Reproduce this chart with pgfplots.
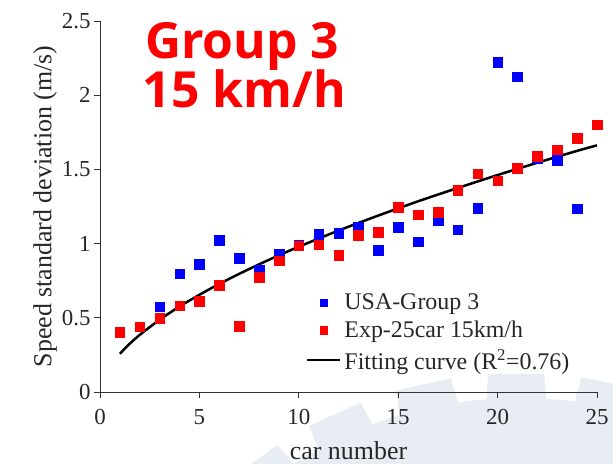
\documentclass[border=0pt]{standalone}
\usepackage{pgfplots}
\pgfplotsset{compat=1.18}
\usepackage{fontspec}
\setmainfont{Liberation Serif}
\newfontfamily\titlefont{Open Sans}
\definecolor{pureblue}{RGB}{0,0,255}
\definecolor{purered}{RGB}{255,0,0}
\definecolor{wm}{RGB}{232,237,243}
\begin{document}
\begin{tikzpicture}
% faint gear watermark in the background
\begin{scope}
\clip (-100bp,-72bp) rectangle (513bp,392bp);
\fill[wm] (420bp,-428bp) circle (422bp);
\foreach \a in {54.5,66.5,78.5,90.5,102.5,114.5,126.5}{
  \fill[wm] ([shift={(420bp,-428bp)}]\a-4.2:415bp) -- ([shift={(420bp,-428bp)}]\a-3.6:447bp)
     -- ([shift={(420bp,-428bp)}]\a+3.6:447bp) -- ([shift={(420bp,-428bp)}]\a+4.2:415bp) -- cycle;
}
\end{scope}
\begin{axis}[
  name=ax,
  at={(0,0)}, anchor=south west,
  scale only axis,
  width=497bp, height=371bp,
  xmin=0, xmax=25, ymin=0, ymax=2.5,
  axis x line*=bottom, axis y line*=left,
  axis line style={black!80, line width=0.8bp},
  xtick={0,5,...,25}, ytick={0,0.5,...,2.5},
  yticklabel style={/pgf/number format/fixed, /pgf/number format/precision=1},
  /pgf/number format/assume math mode=true,
  tick align=outside, major tick length=6bp,
  tick style={black!80, line width=0.8bp},
  ticklabel style={font=\fontsize{23}{26}\selectfont, text=black!85},
  xticklabel style={yshift=-8bp},
  xlabel={car number}, ylabel={Speed standard deviation (m/s)},
  xlabel style={font=\fontsize{26}{28}\selectfont, text=black!85, yshift=-10bp},
  ylabel style={font=\fontsize{26}{28}\selectfont, text=black!85, yshift=-2bp},
  legend cell align=left,
  legend image code/.code={\draw[mark repeat=2,mark phase=2,mark size=3.6bp,#1] plot coordinates {(0bp,0bp) (16.5bp,0bp) (33bp,0bp)};},
  legend style={draw=none, fill=none, at={(axis cs:10.2,0.115)}, anchor=south west,
    font=\fontsize{24}{26}\selectfont, text=black!85, row sep=6bp,
    /tikz/every odd column/.append style={column sep=1bp}},
]
\addplot[only marks, mark=square*, mark size=4.8bp, pureblue] coordinates {
(3,0.575) (4,0.797) (5,0.86) (6,1.021) (7,0.902) (8,0.824) (9,0.931) (10,0.99)
(11,1.064) (12,1.07) (13,1.113) (14,0.954) (15,1.109) (16,1.012) (17,1.156)
(18,1.093) (19,1.239) (20,2.222) (21,2.125) (22,1.575) (23,1.564) (24,1.234)
};
\addlegendentry{USA-Group 3}
\addplot[only marks, mark=square*, mark size=4.8bp, purered] coordinates {
(1,0.402) (2,0.44) (3,0.496) (4,0.581) (5,0.61) (6,0.72) (7,0.442) (8,0.774)
(9,0.886) (10,0.987) (11,0.992) (12,0.92) (13,1.055) (14,1.075) (15,1.245)
(16,1.194) (17,1.212) (18,1.358) (19,1.47) (20,1.423) (21,1.508) (22,1.587)
(23,1.634) (24,1.712) (25,1.802)
};
\addlegendentry{Exp-25car 15km/h}
\addplot[black, line width=2.5bp, smooth, no marks] coordinates {
(1,0.258) (1.5,0.326) (2,0.385) (3,0.487) (4,0.576) (5,0.655) (6,0.728)
(7,0.796) (8,0.860) (9,0.921) (10,0.979) (12,1.088) (14,1.189) (16,1.285)
(18,1.375) (20,1.462) (22,1.545) (24,1.625) (25,1.662)
};
\addlegendentry{Fitting curve (R\textsuperscript{2}=0.76)}
\node[anchor=base west, text=purered, font=\titlefont\bfseries\fontsize{50}{52}\selectfont, inner sep=0pt] at (axis cs:2.26,2.25) {Group 3};
\node[anchor=base west, text=purered, font=\titlefont\bfseries\fontsize{50}{52}\selectfont, inner sep=0pt] at (axis cs:2.15,1.914) {15 km/h};
\end{axis}
\pgfresetboundingbox
\useasboundingbox ([xshift=-100bp,yshift=-72bp]ax.south west) rectangle ([xshift=16bp,yshift=21bp]ax.north east);
\end{tikzpicture}
\end{document}
